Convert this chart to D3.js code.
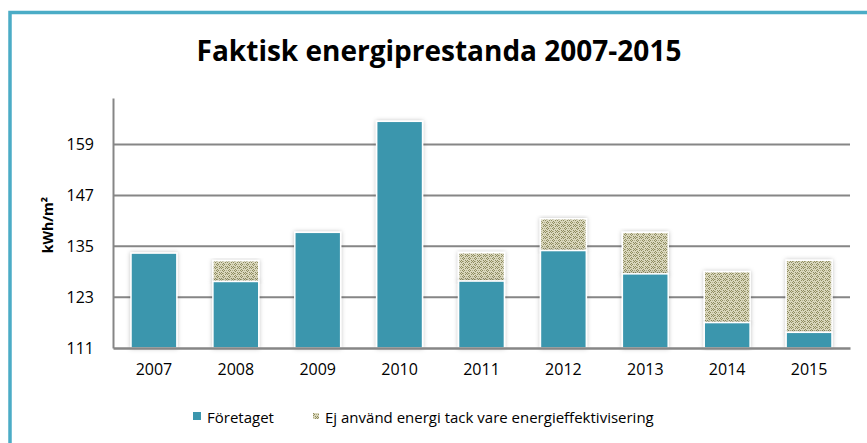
<!DOCTYPE html>
<html>
<head>
<meta charset="utf-8">
<script src="https://cdn.jsdelivr.net/npm/d3@7"></script>
<style>
  body { margin: 0; background: #fff; }
  svg { display: block; font-family: "Open Sans", "Noto Sans", sans-serif; }
</style>
</head>
<body>
<svg id="chart" width="867" height="443"></svg>
<script>
// data
const years = ["2007", "2008", "2009", "2010", "2011", "2012", "2013", "2014", "2015"];
const foretaget = [133.4, 126.7, 138.3, 164.5, 126.8, 134.0, 128.5, 117.0, 114.7];
const besparing = [0, 4.9, 0, 0, 6.7, 7.5, 9.8, 12.0, 17.0];
const yTicks = [111, 123, 135, 147, 159];
const seriesNames = ["Företaget", "Ej använd energi tack vare energieffektivisering"];

const teal = "#3b96ad";
const frame = "#4bacc6";
const grid = "#868686";

const svg = d3.select("#chart");

// pattern for saved energy
const defs = svg.append("defs");
const pat = defs.append("pattern")
  .attr("id", "dots")
  .attr("width", 6).attr("height", 6)
  .attr("patternUnits", "userSpaceOnUse");
pat.append("rect").attr("width", 6).attr("height", 6).attr("fill", "#dad7bd");
[[0,0],[2,0],[1,1],[3,2],[5,2],[4,3],[3,4],[5,4],[0,3],[1,5]].forEach(([px, py]) => {
  pat.append("rect").attr("x", px).attr("y", py).attr("width", 1).attr("height", 1).attr("fill", "#8e8c5f");
});
pat.append("rect").attr("x", 1).attr("y", 3).attr("width", 1).attr("height", 1).attr("fill", "#b3b088");
pat.append("rect").attr("x", 4).attr("y", 0).attr("width", 1).attr("height", 1).attr("fill", "#b3b088");

const shadow = defs.append("filter").attr("id", "shadow")
  .attr("x", "-20%").attr("y", "-10%").attr("width", "140%").attr("height", "120%");
shadow.append("feDropShadow").attr("dx", 0).attr("dy", 0).attr("stdDeviation", 2)
  .attr("flood-color", "#000").attr("flood-opacity", 0.25);

// frame (only top and left visible)
svg.append("rect")
  .attr("x", 10).attr("y", 12.5)
  .attr("width", 900).attr("height", 500)
  .attr("fill", "none")
  .attr("stroke", frame)
  .attr("stroke-width", 3.5);

// title
svg.append("text")
  .attr("x", 439).attr("y", 61)
  .attr("text-anchor", "middle")
  .attr("font-weight", "bold")
  .attr("font-size", 28)
  .attr("fill", "#000")
  .text("Faktisk energiprestanda 2007-2015");

const margin = { left: 113, right: 17, top: 98, bottom: 95 };
const W = 867, H = 443;
const x = d3.scaleBand(years, [margin.left, W - margin.right])
  .paddingInner(0.44).paddingOuter(0.22);
const y = d3.scaleLinear([111, 170], [H - margin.bottom, margin.top]);

// gridlines
svg.append("g")
  .selectAll("line")
  .data(yTicks.slice(1))
  .join("line")
    .attr("x1", margin.left).attr("x2", W - margin.right)
    .attr("y1", d => y(d)).attr("y2", d => y(d))
    .attr("stroke", grid).attr("stroke-width", 2);

// y axis
const yAxis = svg.append("g")
  .attr("transform", `translate(${margin.left},0)`)
  .call(d3.axisLeft(y).tickValues(yTicks).tickSize(0).tickPadding(19));
yAxis.select(".domain").attr("stroke", grid).attr("stroke-width", 2);
yAxis.selectAll("text").attr("font-size", 16).attr("fill", "#000")
  .attr("font-family", "Open Sans, sans-serif");

svg.append("text")
  .attr("transform", `translate(53,${y(140)}) rotate(-90)`)
  .attr("text-anchor", "middle")
  .attr("font-weight", "bold")
  .attr("font-size", 14)
  .text("kWh/m²");

// stacked bars
const rows = years.map((yr, i) => ({ year: yr, base: foretaget[i], extra: besparing[i] }));
const bars = svg.append("g");
bars.selectAll("rect.extra")
  .data(rows.filter(d => d.extra > 0))
  .join("rect")
    .attr("class", "extra")
    .attr("x", d => x(d.year))
    .attr("width", x.bandwidth())
    .attr("y", d => y(d.base + d.extra))
    .attr("height", d => y(d.base) - y(d.base + d.extra))
    .attr("fill", "url(#dots)")
    .attr("stroke", "#fff").attr("stroke-width", 1.5)
    .attr("filter", "url(#shadow)");
bars.selectAll("rect.base")
  .data(rows)
  .join("rect")
    .attr("class", "base")
    .attr("x", d => x(d.year))
    .attr("width", x.bandwidth())
    .attr("y", d => y(d.base))
    .attr("height", d => y(111) - y(d.base))
    .attr("fill", teal)
    .attr("stroke", "#fff").attr("stroke-width", 1.5)
    .attr("filter", "url(#shadow)");

// x axis
const xAxis = svg.append("g")
  .attr("transform", `translate(0,${y(111)})`)
  .call(d3.axisBottom(x).tickSize(0).tickPadding(16));
xAxis.select(".domain").attr("stroke", grid).attr("stroke-width", 2.5);
xAxis.selectAll("text").attr("font-size", 16).attr("fill", "#000")
  .attr("font-family", "Open Sans, sans-serif");

// legend
const legend = svg.append("g").attr("font-size", 15);
legend.append("rect").attr("x", 193).attr("y", 412).attr("width", 8).attr("height", 8).attr("fill", teal);
legend.append("text").attr("x", 207).attr("y", 423).text(seriesNames[0]);
legend.append("rect").attr("x", 313).attr("y", 413).attr("width", 6).attr("height", 6)
  .attr("fill", "url(#dots)");
legend.append("text").attr("x", 325).attr("y", 423).text(seriesNames[1]);
</script>
</body>
</html>
